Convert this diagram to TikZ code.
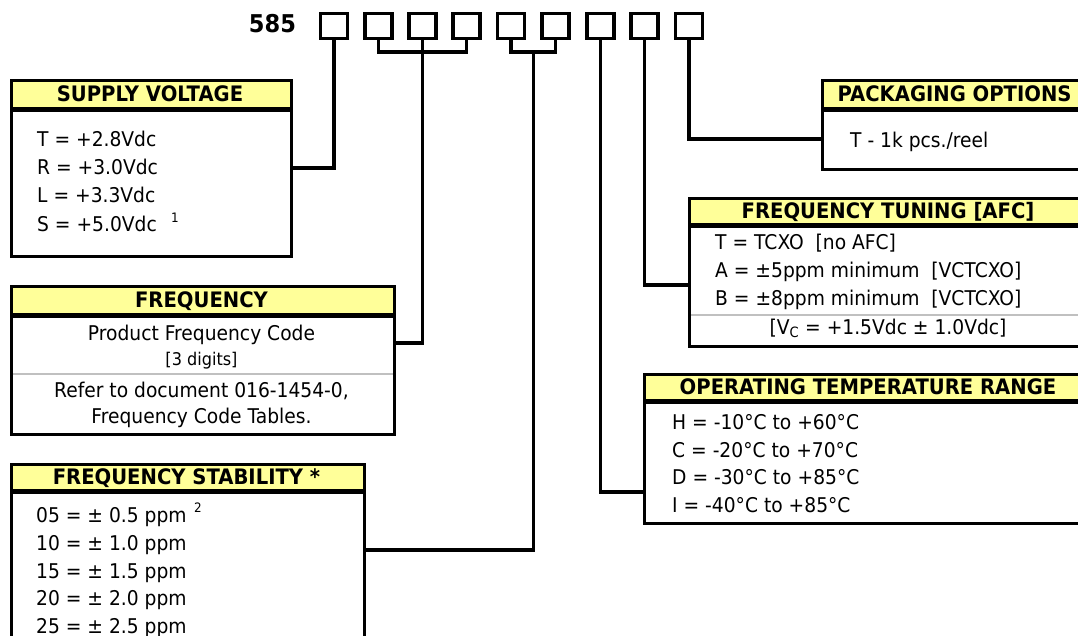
\documentclass[tikz,border=0pt]{standalone}
\usepackage{fontspec}
\setmainfont{DejaVu Sans}[FakeStretch=0.92]
\definecolor{hdryellow}{RGB}{255,255,153}
\definecolor{divgray}{RGB}{192,192,192}
\begin{document}
\begin{tikzpicture}[x=1pt,y=-1pt,
  sq/.style={draw, line width=3.2pt, minimum width=27pt, minimum height=25pt, inner sep=0pt},
  conn/.style={line width=3.2pt},
  boxframe/.style={draw, line width=3.2pt, inner sep=0pt, anchor=north west},
  hdrfill/.style={fill=hdryellow, inner sep=0pt, anchor=north west},
  hdrline/.style={line width=5pt},
  divider/.style={line width=2.5pt, draw=divgray},
  hdrtext/.style={font=\bfseries\fontsize{21.3}{24}\selectfont, anchor=base, inner sep=0pt},
  bodytext/.style={font=\fontsize{20.3}{24}\selectfont, anchor=base west, inner sep=0pt},
  ctrtext/.style={font=\fontsize{20.3}{24}\selectfont, anchor=base, inner sep=0pt},
  smalltext/.style={font=\fontsize{17.5}{20}\selectfont, anchor=base, inner sep=0pt},
  suptext/.style={font=\fontsize{13}{15}\selectfont, anchor=base west, inner sep=0pt}]
\useasboundingbox (0,0) rectangle (1078,636);
\clip (0,0) rectangle (1078,636);
\fill[white] (0,0) rectangle (1078,636);

% part number
\node[font=\bfseries\fontsize{24.5}{28}\selectfont, anchor=base, inner sep=0pt] (pn) at (272.5,33) {585};
\foreach \i/\x in {1/334,2/378.5,3/422.5,4/466.5,5/511,6/555.5,7/600.5,8/644.5,9/689}{
  \node[sq] (q\i) at (\x,26) {};
}

% ---------- SUPPLY VOLTAGE ----------
\node[hdrfill, minimum width=280pt, minimum height=31pt] (svh) at (10,79) {};
\draw[hdrline] (10,110) -- (290,110);
\node[boxframe, minimum width=280pt, minimum height=176pt] (sv) at (10,79) {};
\node[hdrtext] (svt) at (150,101.5) {SUPPLY VOLTAGE};
\node[bodytext] (sv1) at (37,147) {T = +2.8Vdc};
\node[bodytext] (sv2) at (37,175) {R = +3.0Vdc};
\node[bodytext] (sv3) at (37,203) {L = +3.3Vdc};
\node[bodytext] (sv4) at (37,232) {S = +5.0Vdc};
\node[suptext] (sv5) at (171,223) {1};

% ---------- FREQUENCY ----------
\node[hdrfill, minimum width=383pt, minimum height=30.5pt] (frh) at (10,285) {};
\draw[hdrline] (10,315.5) -- (393,315.5);
\draw[divider] (10,374) -- (393,374);
\node[boxframe, minimum width=383pt, minimum height=148pt] (fr) at (10,285) {};
\node[hdrtext] (frt) at (201.5,307.5) {FREQUENCY};
\node[ctrtext] (fr1) at (201.5,340) {Product Frequency Code};
\node[smalltext] (fr2) at (201.5,365) {[3 digits]};
\node[ctrtext] (fr3) at (201.5,397.5) {Refer to document 016-1454-0,};
\node[ctrtext] (fr4) at (201.5,423.5) {Frequency Code Tables.};

% ---------- FREQUENCY STABILITY ----------
\node[hdrfill, minimum width=353pt, minimum height=28pt] (sth) at (10,463) {};
\draw[hdrline] (10,491) -- (363,491);
\node[boxframe, minimum width=353pt, minimum height=237pt] (st) at (10,463) {};
\node[hdrtext] (stt) at (186.5,484.5) {FREQUENCY STABILITY *};
\node[bodytext] (st1) at (36,522.5) {05 = ± 0.5 ppm};
\node[suptext] (st6) at (194,512) {2};
\node[bodytext] (st2) at (36,550.5) {10 = ± 1.0 ppm};
\node[bodytext] (st3) at (36,578) {15 = ± 1.5 ppm};
\node[bodytext] (st4) at (36,605.5) {20 = ± 2.0 ppm};
\node[bodytext] (st5) at (36,633) {25 = ± 2.5 ppm};

% ---------- PACKAGING OPTIONS ----------
\node[hdrfill, minimum width=267pt, minimum height=31pt] (pkh) at (821,79) {};
\draw[hdrline] (821,110) -- (1088,110);
\node[boxframe, minimum width=267pt, minimum height=89pt] (pk) at (821,79) {};
\node[hdrtext] (pkt) at (954.5,101.5) {PACKAGING OPTIONS};
\node[bodytext] (pk1) at (850,148) {T - 1k pcs./reel};

% ---------- FREQUENCY TUNING ----------
\node[hdrfill, minimum width=400pt, minimum height=28.5pt] (tnh) at (688,197) {};
\draw[hdrline] (688,225.5) -- (1088,225.5);
\draw[divider] (688,315) -- (1088,315);
\node[boxframe, minimum width=400pt, minimum height=148pt] (tn) at (688,197) {};
\node[hdrtext] (tnt) at (888,218.5) {FREQUENCY TUNING [AFC]};
\node[bodytext] (tn1) at (715,249.5) {T = TCXO\ \ [no AFC]};
\node[bodytext] (tn2) at (715,277.5) {A = ±5ppm minimum\ \ [VCTCXO]};
\node[bodytext] (tn3) at (715,305.5) {B = ±8ppm minimum\ \ [VCTCXO]};
\node[ctrtext] (tn4) at (888,334) {[V\textsubscript{C} = +1.5Vdc ± 1.0Vdc]};

% ---------- OPERATING TEMPERATURE RANGE ----------
\node[hdrfill, minimum width=450pt, minimum height=28.5pt] (tph) at (643,373) {};
\draw[hdrline] (643,401.5) -- (1093,401.5);
\node[boxframe, minimum width=450pt, minimum height=149pt] (tp) at (643,373) {};
\node[hdrtext] (tpt) at (868,394.5) {OPERATING TEMPERATURE RANGE};
\node[bodytext] (tp1) at (672,429.5) {H = -10°C to +60°C};
\node[bodytext] (tp2) at (672,457) {C = -20°C to +70°C};
\node[bodytext] (tp3) at (672,484.5) {D = -30°C to +85°C};
\node[bodytext] (tp4) at (672,512) {I = -40°C to +85°C};

% ---------- connectors ----------
\coordinate (svc) at (290,168);
\coordinate (frc) at (393,343);
\coordinate (stc) at (363,550);
\coordinate (tpc) at (643,492);
\coordinate (tnc) at (688,285);
\coordinate (pkc) at (821,139);
\coordinate (b1) at (422.5,52);
\coordinate (b2) at (533.25,52);
\draw[conn] (q1.south) |- (svc);
\draw[conn] (q2.south) |- (b1) -| (q4.south);
\draw[conn] (q3.south) |- (frc);
\draw[conn] (q5.south) |- (b2) -| (q6.south);
\draw[conn] (b2) |- (stc);
\draw[conn] (q7.south) |- (tpc);
\draw[conn] (q8.south) |- (tnc);
\draw[conn] (q9.south) |- (pkc);
\end{tikzpicture}
\end{document}
